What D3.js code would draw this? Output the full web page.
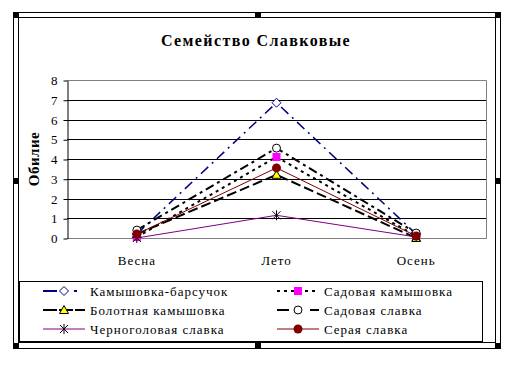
<!DOCTYPE html>
<html><head><meta charset="utf-8">
<script src="https://cdn.jsdelivr.net/npm/d3@7"></script>
<style>
html,body{margin:0;padding:0;background:#fff;}
svg{display:block;}
text{font-family:"Liberation Serif","Times New Roman",serif;}
</style></head>
<body>
<script>
const categories = ["Весна", "Лето", "Осень"];
const seriesNames = ["Камышовка-барсучок", "Садовая камышовка", "Болотная камышовка", "Садовая славка", "Черноголовая славка", "Серая славка"];
const barsuchok   = [0.2, 6.85, 0.2];
const sadKam      = [0.05, 4.1, 0.1];
const bolotKam    = [0.2, 3.2, 0.0];
const sadSlavka   = [0.4, 4.55, 0.25];
const chernoSlavka= [0.0, 1.15, 0.05];
const seraya      = [0.2, 3.55, 0.1];
const yTicks = [0,1,2,3,4,5,6,7,8];
const title = "Семейство Славковые";
const yTitle = "Обилие";

const styles = [
  {color:"#000080", width:1.5, dash:"10,5,2,5", ldash:"14,17,3,20", marker:"diamond", fill:"none", mstroke:"#000080"},
  {color:"#000000", width:2, dash:"3,4", ldash:"3,4", marker:"square", fill:"#ff00ff", mstroke:"#ff00ff"},
  {color:"#000000", width:2, dash:"10,4", ldash:"14,2", marker:"triangle", fill:"#ffff00", mstroke:"#000000"},
  {color:"#000000", width:2, dash:"9,4,3,4", ldash:"12,21,9,5", marker:"circle", fill:"none", mstroke:"#000000"},
  {color:"#800080", width:1, dash:null, ldash:null, marker:"star", fill:"none", mstroke:"#000000"},
  {color:"#800000", width:1, dash:null, ldash:null, marker:"dot", fill:"#800000", mstroke:"#800000"}
];
const data = [barsuchok, sadKam, bolotKam, sadSlavka, chernoSlavka, seraya];

const W = 521, H = 370;
const svg = d3.select("body").append("svg").attr("width", W).attr("height", H);

// frame
svg.append("rect").attr("x",13.5).attr("y",12.5).attr("width",487).attr("height",336).attr("fill","none").attr("stroke","#000");
svg.append("rect").attr("x",18.5).attr("y",17.5).attr("width",477).attr("height",325).attr("fill","none").attr("stroke","#000");
const handles = [[13,12],[255,12],[495,12],[13,178],[495,178],[13,343],[255,343],[495,343]];
svg.selectAll("rect.h").data(handles).enter().append("rect").attr("class","h")
  .attr("x",d=>d[0]).attr("y",d=>d[1]).attr("width",6).attr("height",6).attr("fill","#000");

// title
svg.append("text").attr("x",256).attr("y",46).attr("text-anchor","middle")
  .attr("font-size",16).attr("font-weight","bold").attr("letter-spacing",1.4).text(title);

const x = d3.scaleBand().domain(categories).range([67,486]).padding(0);
const y = d3.scaleLinear().domain([0,8]).range([238,80]);
const cx = c => x(c) + x.bandwidth()/2;

// grid
svg.append("g").selectAll("line").data(yTicks.filter(t=>t>0&&t<8)).enter().append("line")
  .attr("x1",67).attr("x2",486).attr("y1",d=>Math.round(y(d))+0.5).attr("y2",d=>Math.round(y(d))+0.5)
  .attr("stroke","#000");
// plot border gray (top, right, bottom)
svg.append("path").attr("d",`M67,${y(8)+0.5}H486.5V${y(0)+0.5}H67`).attr("fill","none").attr("stroke","#808080");

// y axis
const yAxis = d3.axisLeft(y).tickValues(yTicks).tickSize(4).tickPadding(6).tickSizeOuter(0);
const gy = svg.append("g").attr("transform","translate(67.5,0.5)").call(yAxis);
gy.select(".domain").attr("stroke","#000");
gy.selectAll("text").attr("font-size",13).attr("font-family","Liberation Serif, serif").attr("fill","#000");

// x axis labels
const xAxis = d3.axisBottom(x).tickSize(0).tickPadding(0);
const gx = svg.append("g").attr("transform","translate(0,256)").call(xAxis);
gx.select(".domain").remove();
gx.selectAll("text").attr("font-size",13).attr("font-family","Liberation Serif, serif").attr("letter-spacing",1).attr("fill","#000");

// y title
svg.append("text").attr("transform","translate(39,159) rotate(-90)").attr("text-anchor","middle")
  .attr("font-size",15).attr("font-weight","bold").attr("letter-spacing",0.5).text(yTitle);

function drawMarker(g, type, st, px, py){
  const s = 4;
  if(type==="diamond"){
    g.append("path").attr("d",`M${px},${py-s-0.5}L${px+s+0.5},${py}L${px},${py+s+0.5}L${px-s-0.5},${py}Z`).attr("fill","#fff").attr("stroke",st.mstroke).attr("stroke-width",1);
  } else if(type==="square"){
    g.append("rect").attr("x",px-4).attr("y",py-4).attr("width",8).attr("height",8).attr("fill",st.fill);
  } else if(type==="triangle"){
    g.append("path").attr("d",`M${px},${py-4.5}L${px+4.5},${py+3.5}L${px-4.5},${py+3.5}Z`).attr("fill",st.fill).attr("stroke","#000").attr("stroke-width",1);
  } else if(type==="circle"){
    g.append("circle").attr("cx",px).attr("cy",py).attr("r",4).attr("fill","#fff").attr("stroke","#000").attr("stroke-width",1);
  } else if(type==="star"){
    g.append("path").attr("d",`M${px-4},${py-4}L${px+4},${py+4}M${px+4},${py-4}L${px-4},${py+4}M${px},${py-5}L${px},${py+5}`).attr("stroke","#000").attr("stroke-width",1).attr("fill","none");
  } else if(type==="dot"){
    g.append("circle").attr("cx",px).attr("cy",py).attr("r",4.5).attr("fill",st.fill);
  }
}

const line = d3.line().x((d,i)=>cx(categories[i])).y(d=>y(d));
data.forEach((vals,si)=>{
  const st = styles[si];
  const g = svg.append("g");
  g.append("path").datum(vals).attr("d",line).attr("fill","none").attr("stroke",st.color)
    .attr("stroke-width",st.width).attr("stroke-dasharray",st.dash);
  vals.forEach((v,i)=>drawMarker(g, st.marker, st, cx(categories[i]), y(v)));
});

// legend
svg.append("rect").attr("x",19.5).attr("y",281.5).attr("width",463).attr("height",60).attr("fill","#fff").attr("stroke","#000");
const colX = [43, 277];
const rowY = [291, 310, 329];
seriesNames.forEach((name,i)=>{
  const st = styles[i];
  const lx = colX[i%2], ly = rowY[Math.floor(i/2)];
  const g = svg.append("g");
  g.append("line").attr("x1",lx).attr("x2",lx+42).attr("y1",ly).attr("y2",ly)
    .attr("stroke",st.color).attr("stroke-width",st.width===1.5?2:st.width).attr("stroke-dasharray",st.ldash);
  drawMarker(g, st.marker, st, lx+21, ly);
  g.append("text").attr("x",lx+47).attr("y",ly+5).attr("font-size",13).attr("letter-spacing",1).text(name);
});
</script>
</body></html>
